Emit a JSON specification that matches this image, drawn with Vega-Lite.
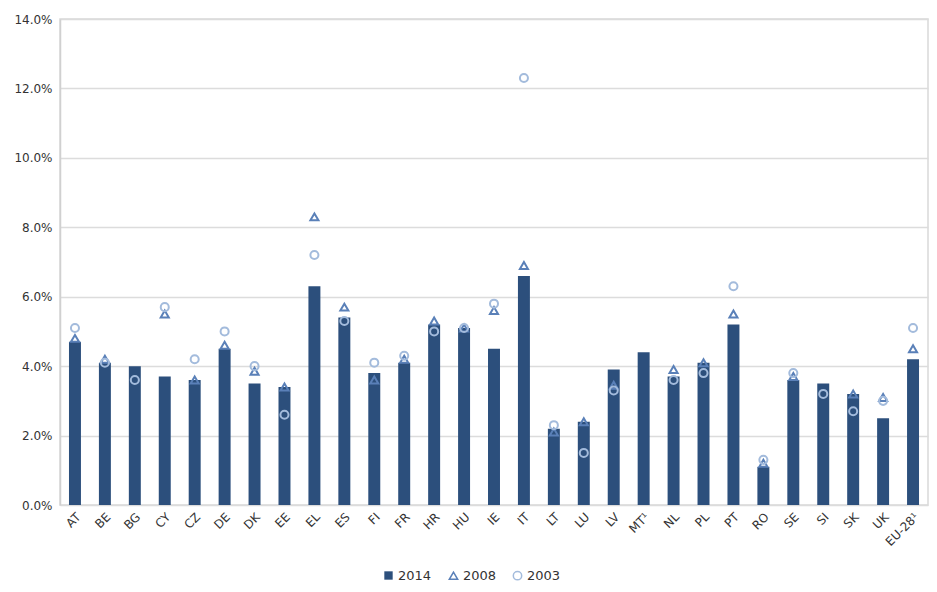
{
  "$schema": "https://vega.github.io/schema/vega-lite/v6.json",
  "width": 868,
  "height": 486,
  "autosize": {"type": "none"},
  "padding": {"left": 60, "top": 19, "right": 9, "bottom": 87},
  "background": "white",
  "config": {
    "font": "DejaVu Sans",
    "view": {"stroke": "#d9d9d9", "strokeWidth": 1.5},
    "axis": {"labelFont": "DejaVu Sans", "labelColor": "#333333", "labelFontSize": 12, "title": null},
    "legend": {"labelFont": "DejaVu Sans", "labelFontSize": 13, "labelColor": "#333333", "title": null, "orient": "none", "direction": "horizontal", "symbolSize": 70, "symbolStrokeWidth": 1.5, "columnPadding": 13, "labelOffset": 3}
  },
  "data": {"values": [
    {"country": "AT", "year": "2014", "value": 0.047}, {"country": "AT", "year": "2008", "value": 0.048}, {"country": "AT", "year": "2003", "value": 0.051},
    {"country": "BE", "year": "2014", "value": 0.041}, {"country": "BE", "year": "2008", "value": 0.042}, {"country": "BE", "year": "2003", "value": 0.041},
    {"country": "BG", "year": "2014", "value": 0.040}, {"country": "BG", "year": "2003", "value": 0.036},
    {"country": "CY", "year": "2014", "value": 0.037}, {"country": "CY", "year": "2008", "value": 0.055}, {"country": "CY", "year": "2003", "value": 0.057},
    {"country": "CZ", "year": "2014", "value": 0.036}, {"country": "CZ", "year": "2008", "value": 0.036}, {"country": "CZ", "year": "2003", "value": 0.042},
    {"country": "DE", "year": "2014", "value": 0.045}, {"country": "DE", "year": "2008", "value": 0.046}, {"country": "DE", "year": "2003", "value": 0.050},
    {"country": "DK", "year": "2014", "value": 0.035}, {"country": "DK", "year": "2008", "value": 0.0385}, {"country": "DK", "year": "2003", "value": 0.040},
    {"country": "EE", "year": "2014", "value": 0.034}, {"country": "EE", "year": "2008", "value": 0.034}, {"country": "EE", "year": "2003", "value": 0.026},
    {"country": "EL", "year": "2014", "value": 0.063}, {"country": "EL", "year": "2008", "value": 0.083}, {"country": "EL", "year": "2003", "value": 0.072},
    {"country": "ES", "year": "2014", "value": 0.054}, {"country": "ES", "year": "2008", "value": 0.057}, {"country": "ES", "year": "2003", "value": 0.053},
    {"country": "FI", "year": "2014", "value": 0.038}, {"country": "FI", "year": "2008", "value": 0.036}, {"country": "FI", "year": "2003", "value": 0.041},
    {"country": "FR", "year": "2014", "value": 0.041}, {"country": "FR", "year": "2008", "value": 0.042}, {"country": "FR", "year": "2003", "value": 0.043},
    {"country": "HR", "year": "2014", "value": 0.052}, {"country": "HR", "year": "2008", "value": 0.053}, {"country": "HR", "year": "2003", "value": 0.050},
    {"country": "HU", "year": "2014", "value": 0.051}, {"country": "HU", "year": "2008", "value": 0.051}, {"country": "HU", "year": "2003", "value": 0.051},
    {"country": "IE", "year": "2014", "value": 0.045}, {"country": "IE", "year": "2008", "value": 0.056}, {"country": "IE", "year": "2003", "value": 0.058},
    {"country": "IT", "year": "2014", "value": 0.066}, {"country": "IT", "year": "2008", "value": 0.069}, {"country": "IT", "year": "2003", "value": 0.123},
    {"country": "LT", "year": "2014", "value": 0.022}, {"country": "LT", "year": "2008", "value": 0.021}, {"country": "LT", "year": "2003", "value": 0.023},
    {"country": "LU", "year": "2014", "value": 0.024}, {"country": "LU", "year": "2008", "value": 0.024}, {"country": "LU", "year": "2003", "value": 0.015},
    {"country": "LV", "year": "2014", "value": 0.039}, {"country": "LV", "year": "2008", "value": 0.0345}, {"country": "LV", "year": "2003", "value": 0.033},
    {"country": "MT¹", "year": "2014", "value": 0.044},
    {"country": "NL", "year": "2014", "value": 0.037}, {"country": "NL", "year": "2008", "value": 0.039}, {"country": "NL", "year": "2003", "value": 0.036},
    {"country": "PL", "year": "2014", "value": 0.041}, {"country": "PL", "year": "2008", "value": 0.041}, {"country": "PL", "year": "2003", "value": 0.038},
    {"country": "PT", "year": "2014", "value": 0.052}, {"country": "PT", "year": "2008", "value": 0.055}, {"country": "PT", "year": "2003", "value": 0.063},
    {"country": "RO", "year": "2014", "value": 0.011}, {"country": "RO", "year": "2008", "value": 0.012}, {"country": "RO", "year": "2003", "value": 0.013},
    {"country": "SE", "year": "2014", "value": 0.036}, {"country": "SE", "year": "2008", "value": 0.037}, {"country": "SE", "year": "2003", "value": 0.038},
    {"country": "SI", "year": "2014", "value": 0.035}, {"country": "SI", "year": "2003", "value": 0.032},
    {"country": "SK", "year": "2014", "value": 0.032}, {"country": "SK", "year": "2008", "value": 0.032}, {"country": "SK", "year": "2003", "value": 0.027},
    {"country": "UK", "year": "2014", "value": 0.025}, {"country": "UK", "year": "2008", "value": 0.031}, {"country": "UK", "year": "2003", "value": 0.030},
    {"country": "EU-28¹", "year": "2014", "value": 0.042}, {"country": "EU-28¹", "year": "2008", "value": 0.045}, {"country": "EU-28¹", "year": "2003", "value": 0.051}
  ]},
  "encoding": {
    "x": {
      "field": "country", "type": "nominal",
      "sort": ["AT","BE","BG","CY","CZ","DE","DK","EE","EL","ES","FI","FR","HR","HU","IE","IT","LT","LU","LV","MT¹","NL","PL","PT","RO","SE","SI","SK","UK","EU-28¹"],
      "scale": {"paddingInner": 0.6, "paddingOuter": 0.3},
      "axis": {"labelAngle": -45, "ticks": false, "domain": false, "labelPadding": 6}
    },
    "y": {
      "field": "value", "type": "quantitative",
      "scale": {"domain": [0, 0.14]},
      "axis": {"format": ".1%", "values": [0, 0.02, 0.04, 0.06, 0.08, 0.1, 0.12, 0.14], "gridColor": "#dcdcdc", "gridWidth": 1.5, "ticks": false, "domainColor": "#d0d0d0", "domainWidth": 1.5, "labelPadding": 8}
    }
  },
  "layer": [
    {
      "transform": [{"filter": "datum.year === '2014'"}],
      "mark": {"type": "bar"},
      "encoding": {
        "fill": {
          "field": "year", "type": "nominal",
          "scale": {"domain": ["2014"], "range": ["#2c4f7c"]},
          "legend": {"legendX": 322, "legendY": 550, "symbolType": "square"}
        }
      }
    },
    {
      "transform": [{"filter": "datum.year !== '2014'"}],
      "mark": {"type": "point", "filled": false, "strokeWidth": 2, "size": 65, "opacity": 1},
      "encoding": {
        "stroke": {
          "field": "year", "type": "nominal",
          "scale": {"domain": ["2008", "2003"], "range": ["#5a80b8", "#a3bbdc"]},
          "legend": {"legendX": 387, "legendY": 550}
        },
        "shape": {
          "field": "year", "type": "nominal",
          "scale": {"domain": ["2008", "2003"], "range": ["triangle-up", "circle"]},
          "legend": {"legendX": 387, "legendY": 550}
        }
      }
    }
  ]
}
